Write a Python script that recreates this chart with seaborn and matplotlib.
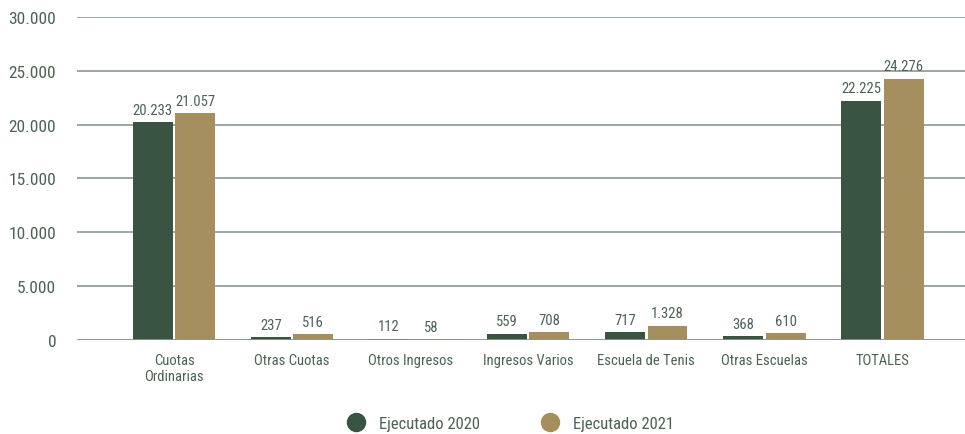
import pandas as pd
import seaborn as sns
import matplotlib.pyplot as plt
from matplotlib.lines import Line2D

categorias = ['Cuotas\nOrdinarias', 'Otras Cuotas', 'Otros Ingresos', 'Ingresos Varios',
              'Escuela de Tenis', 'Otras Escuelas', 'TOTALES']
ejec_2020 = [20233, 237, 112, 559, 717, 368, 22225]
ejec_2021 = [21057, 516, 58, 708, 1328, 610, 24276]
series = ['Ejecutado 2020', 'Ejecutado 2021']
colores = ['#3a5444', '#a58f5f']

df = pd.DataFrame({
    'cat': categorias * 2,
    'valor': ejec_2020 + ejec_2021,
    'serie': [series[0]] * len(categorias) + [series[1]] * len(categorias),
})

sns.set_style('white')
plt.rcParams['font.family'] = ['Roboto Condensed', 'Roboto', 'DejaVu Sans']
txt = '#4a6354'

fig = plt.figure(figsize=(9.65, 4.35), dpi=100)
ax = fig.add_axes([0.08, 0.216, 0.92, 0.743])
sns.barplot(data=df, x='cat', y='valor', hue='serie', palette=colores,
            width=0.72, gap=0.06, saturation=1, legend=False, ax=ax, zorder=3,
            linewidth=0)

def fmt(v):
    return f'{v:,}'.replace(',', '.')

for cont, vals in zip(ax.containers, [ejec_2020, ejec_2021]):
    ax.bar_label(cont, labels=[fmt(v) for v in vals], padding=4, fontsize=10.5, color=txt)

ax.set_ylim(0, 30000)
ax.set_xlim(-0.82, 6.7)
ax.set_yticks(range(0, 30001, 5000))
ax.set_yticklabels([fmt(v) for v in range(0, 30001, 5000)], fontsize=12.5, color=txt)
ax.tick_params(axis='x', labelsize=10.5, colors=txt, length=0, pad=9)
ax.tick_params(axis='y', length=0, pad=15)
ax.yaxis.grid(True, color='#8a9a8c', linewidth=1.2, zorder=0)
ax.axhline(0, color='#8a9a8c', linewidth=1.2, zorder=4)
for s in ax.spines.values():
    s.set_visible(False)
ax.set_xlabel('')
ax.set_ylabel('')

handles = [Line2D([], [], marker='o', linestyle='', markersize=13, color=c) for c in colores]
fig.legend(handles, series, loc='center', bbox_to_anchor=(0.525, 0.025), ncol=2, frameon=False,
           fontsize=12, labelcolor=txt, columnspacing=3.2, handletextpad=0.4)

fig.savefig('out.png', dpi=100)
